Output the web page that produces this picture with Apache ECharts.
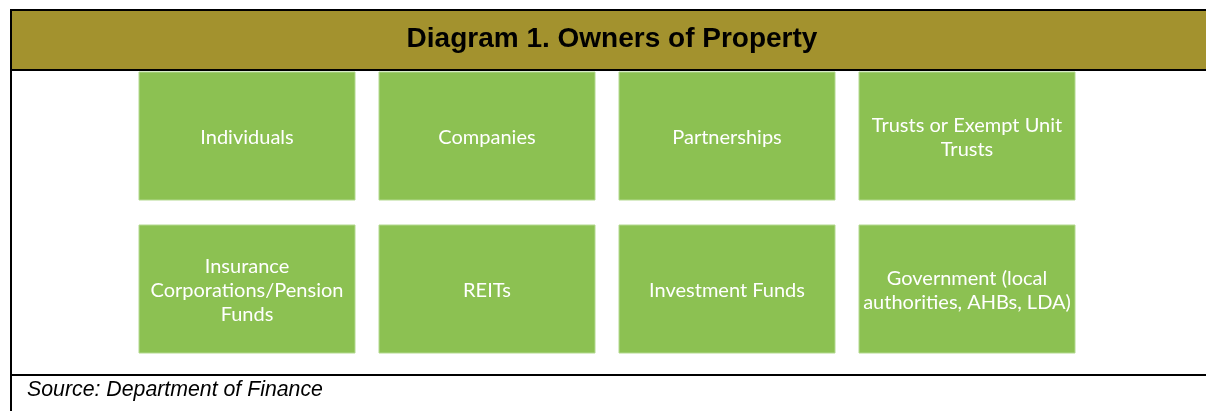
<!DOCTYPE html>
<html>
<head>
    <meta charset="UTF-8">
    <title>Owners of Property</title>
    <style>
        html, body { margin: 0; padding: 0; background: #fff; }
    </style>
</head>
<body>
<div id="main" style="width:1206px;height:411px"></div>
<script src="https://cdn.jsdelivr.net/npm/echarts@6/dist/echarts.min.js"></script>
<script type="text/javascript">
// grid of boxes: 4 columns x 2 rows
var columns = ['c1', 'c2', 'c3', 'c4'];
var rows = ['r1', 'r2'];
var owners = [
    'Individuals',
    'Companies',
    'Partnerships',
    'Trusts or Exempt Unit\nTrusts',
    'Insurance\nCorporations/Pension\nFunds',
    'REITs',
    'Investment Funds',
    'Government (local\nauthorities, AHBs, LDA)'
];
var ownerCol = [0, 1, 2, 3, 0, 1, 2, 3];
var ownerRow = [0, 0, 0, 0, 1, 1, 1, 1];

var titleText = 'Diagram 1. Owners of Property';
var sourceText = 'Source: Department of Finance';

var data = [];
for (var i = 0; i < owners.length; i++) {
    data.push([ownerCol[i], ownerRow[i], owners[i]]);
}

var option = {
    animation: false,
    backgroundColor: '#ffffff',
    grid: {
        left: 127,
        top: 59.5,
        width: 960,
        height: 306
    },
    xAxis: {
        type: 'category',
        data: columns,
        show: false
    },
    yAxis: {
        type: 'category',
        data: rows,
        inverse: true,
        show: false
    },
    graphic: [
        // title bar
        {
            type: 'rect',
            shape: { x: 11, y: 10, width: 1200, height: 60 },
            style: { fill: '#a3922e' },
            z: 1
        },
        { type: 'line', shape: { x1: 11, y1: 10, x2: 1210, y2: 10 }, style: { stroke: '#000', lineWidth: 2 }, z: 5 },
        { type: 'line', shape: { x1: 11, y1: 70, x2: 1210, y2: 70 }, style: { stroke: '#000', lineWidth: 2 }, z: 5 },
        { type: 'line', shape: { x1: 11, y1: 375, x2: 1210, y2: 375 }, style: { stroke: '#000', lineWidth: 2 }, z: 5 },
        { type: 'line', shape: { x1: 11, y1: 9, x2: 11, y2: 420 }, style: { stroke: '#000', lineWidth: 2 }, z: 5 },
        {
            type: 'text',
            x: 612,
            y: 39,
            style: {
                text: titleText,
                fill: '#000',
                font: 'bold 28px "Liberation Sans", Arial, sans-serif',
                textAlign: 'center',
                textVerticalAlign: 'middle'
            },
            z: 6
        },
        {
            type: 'text',
            x: 27,
            y: 390,
            style: {
                text: sourceText,
                fill: '#000',
                font: 'italic 21.3px "Liberation Sans", Arial, sans-serif',
                textAlign: 'left',
                textVerticalAlign: 'middle'
            },
            z: 6
        }
    ],
    series: [
        {
            type: 'custom',
            data: data,
            z: 10,
            renderItem: function (params, api) {
                var center = api.coord([api.value(0), api.value(1)]);
                var band = api.size([1, 1]);
                var w = band[0] - 24;
                var h = band[1] - 25;
                return {
                    type: 'group',
                    children: [
                        {
                            type: 'rect',
                            shape: { x: center[0] - w / 2, y: center[1] - h / 2, width: w, height: h },
                            style: { fill: '#8cc152', stroke: '#b3d98f', lineWidth: 1 }
                        },
                        {
                            type: 'text',
                            x: center[0],
                            y: center[1] + 1.5,
                            style: {
                                text: api.value(2),
                                fill: '#ffffff',
                                font: '20px Lato, "Noto Sans", sans-serif',
                                lineHeight: 24,
                                textAlign: 'center',
                                textVerticalAlign: 'middle'
                            }
                        }
                    ]
                };
            }
        }
    ]
};

var myChart = echarts.init(document.getElementById('main'));
myChart.setOption(option);
</script>
</body>
</html>
